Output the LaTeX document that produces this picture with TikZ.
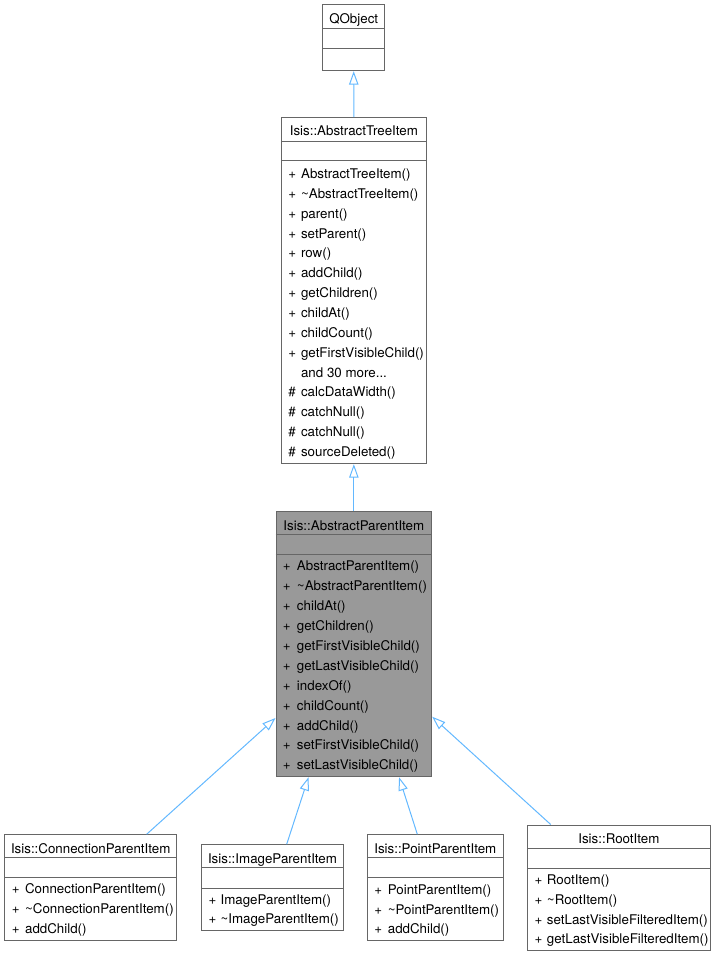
\documentclass[tikz,border=0pt]{standalone}
\usepackage{fontspec}
\setmainfont{TeX Gyre Heros}
\usetikzlibrary{arrows.meta,fit}
\definecolor{boxline}{HTML}{666666}
\definecolor{hifill}{HTML}{999999}
\definecolor{inhline}{HTML}{63B8FF}
\newcommand\umlsign[1]{\makebox[9.6pt][l]{#1}}
\newcommand\moretext{and 30 more.{}.{}.}
\begin{document}
\begin{tikzpicture}[x=0.75pt,y=-0.75pt,
  classbox/.style={draw=boxline,line width=0.75pt,inner sep=0pt,fill=white},
  hibox/.style={classbox,fill=hifill},
  sepline/.style={draw=boxline,line width=0.75pt},
  ctitle/.style={anchor=base,inner sep=0pt,font=\fontsize{10}{12}\selectfont},
  member/.style={anchor=base west,inner sep=0pt,font=\fontsize{10}{12}\selectfont},
  inherit/.style={draw=inhline,line width=0.75pt,-{Triangle[open,length=10pt,width=7pt]}}]
\useasboundingbox (0,0) rectangle (716,956);

% QObject
\node[classbox,fit={(322.7,5) (384.7,70.7)}] (qobject) {};
\draw[sepline] (qobject.west |- 0,28.7) -- (qobject.east |- 0,28.7);
\draw[sepline] (qobject.west |- 0,48.3) -- (qobject.east |- 0,48.3);
\node[ctitle] (qobject-t) at (353.7,23.1) {QObject};

% AbstractTreeItem
\node[classbox,fit={(281.7,117.7) (426,463.7)}] (atree) {};
\draw[sepline] (atree.west |- 0,141) -- (atree.east |- 0,141);
\draw[sepline] (atree.west |- 0,160) -- (atree.east |- 0,160);
\node[ctitle] (atree-t) at (353.85,135.8) {Isis::AbstractTreeItem};
\foreach \t [count=\i from 0] in {%
  {\umlsign{+}AbstractTreeItem()},{\umlsign{+}\textasciitilde AbstractTreeItem()},%
  {\umlsign{+}parent()},{\umlsign{+}setParent()},{\umlsign{+}row()},%
  {\umlsign{+}addChild()},{\umlsign{+}getChildren()},{\umlsign{+}childAt()},%
  {\umlsign{+}childCount()},{\umlsign{+}getFirstVisibleChild()},%
  {\umlsign{}\moretext},{\umlsign{\#}calcDataWidth()},%
  {\umlsign{\#}catchNull()},{\umlsign{\#}catchNull()},{\umlsign{\#}sourceDeleted()}}
  \node[member] (atree-\i) at (288,{178.5+19.86*\i}) {\t};

% AbstractParentItem
\node[hibox,fit={(276,511.7) (431.7,776.7)}] (aparent) {};
\draw[sepline] (aparent.west |- 0,534.3) -- (aparent.east |- 0,534.3);
\draw[sepline] (aparent.west |- 0,554.3) -- (aparent.east |- 0,554.3);
\node[ctitle] (aparent-t) at (353.85,530.5) {Isis::AbstractParentItem};
\foreach \t [count=\i from 0] in {%
  AbstractParentItem(),\textasciitilde AbstractParentItem(),childAt(),%
  getChildren(),getFirstVisibleChild(),getLastVisibleChild(),indexOf(),%
  childCount(),addChild(),setFirstVisibleChild(),setLastVisibleChild()}
  \node[member] (aparent-\i) at (282.7,{570.8+19.9*\i}) {\makebox[10.5pt][l]{+}\t};

% ConnectionParentItem
\node[classbox,fit={(4.7,834.7) (176.7,940)}] (conn) {};
\draw[sepline] (conn.west |- 0,857.7) -- (conn.east |- 0,857.7);
\draw[sepline] (conn.west |- 0,877.7) -- (conn.east |- 0,877.7);
\node[ctitle] (conn-t) at (90.7,853.8) {Isis::ConnectionParentItem};
\foreach \t [count=\i from 0] in {%
  ConnectionParentItem(),\textasciitilde ConnectionParentItem(),addChild()}
  \node[member] (conn-\i) at (11.5,{893.8+20*\i}) {\makebox[10pt][l]{+}\t};

% ImageParentItem
\node[classbox,fit={(201.7,844.7) (343.3,930)}] (image) {};
\draw[sepline] (image.west |- 0,867.7) -- (image.east |- 0,867.7);
\draw[sepline] (image.west |- 0,888) -- (image.east |- 0,888);
\node[ctitle] (image-t) at (272.5,863.8) {Isis::ImageParentItem};
\foreach \t [count=\i from 0] in {%
  ImageParentItem(),\textasciitilde ImageParentItem()}
  \node[member] (image-\i) at (208.3,{904.1+19.7*\i}) {\makebox[9pt][l]{+}\t};

% PointParentItem
\node[classbox,fit={(367.3,834.7) (503.3,940)}] (point) {};
\draw[sepline] (point.west |- 0,857.7) -- (point.east |- 0,857.7);
\draw[sepline] (point.west |- 0,877.7) -- (point.east |- 0,877.7);
\node[ctitle] (point-t) at (435.3,853.8) {Isis::PointParentItem};
\foreach \t [count=\i from 0] in {%
  PointParentItem(),\textasciitilde PointParentItem(),addChild()}
  \node[member] (point-\i) at (374,{894.5+19.7*\i}) {\makebox[10.2pt][l]{+}\t};

% RootItem
\node[classbox,fit={(527.7,825) (710,950)}] (root) {};
\draw[sepline] (root.west |- 0,848) -- (root.east |- 0,848);
\draw[sepline] (root.west |- 0,868.3) -- (root.east |- 0,868.3);
\node[ctitle] (root-t) at (618.85,843.1) {Isis::RootItem};
\foreach \t [count=\i from 0] in {%
  RootItem(),\textasciitilde RootItem(),setLastVisibleFilteredItem(),%
  getLastVisibleFilteredItem()}
  \node[member] (root-\i) at (534.3,{884.8+19.7*\i}) {\makebox[9.3pt][l]{+}\t};

% inheritance connectors
\draw[inherit] (atree.north) -- (qobject.south);
\draw[inherit] (aparent.north) -- (atree.south);
\draw[inherit] ([xshift=42pt]conn.north) -- ([yshift=-55.35pt]aparent.west);
\draw[inherit] ([xshift=10.65pt]image.north) -- ([xshift=-34pt]aparent.south);
\draw[inherit] ([xshift=-13.5pt]point.north) -- ([xshift=33.9pt]aparent.south);
\draw[inherit] ([xshift=-51.1pt]root.north) -- ([yshift=-54.4pt]aparent.east);
\end{tikzpicture}
\end{document}
